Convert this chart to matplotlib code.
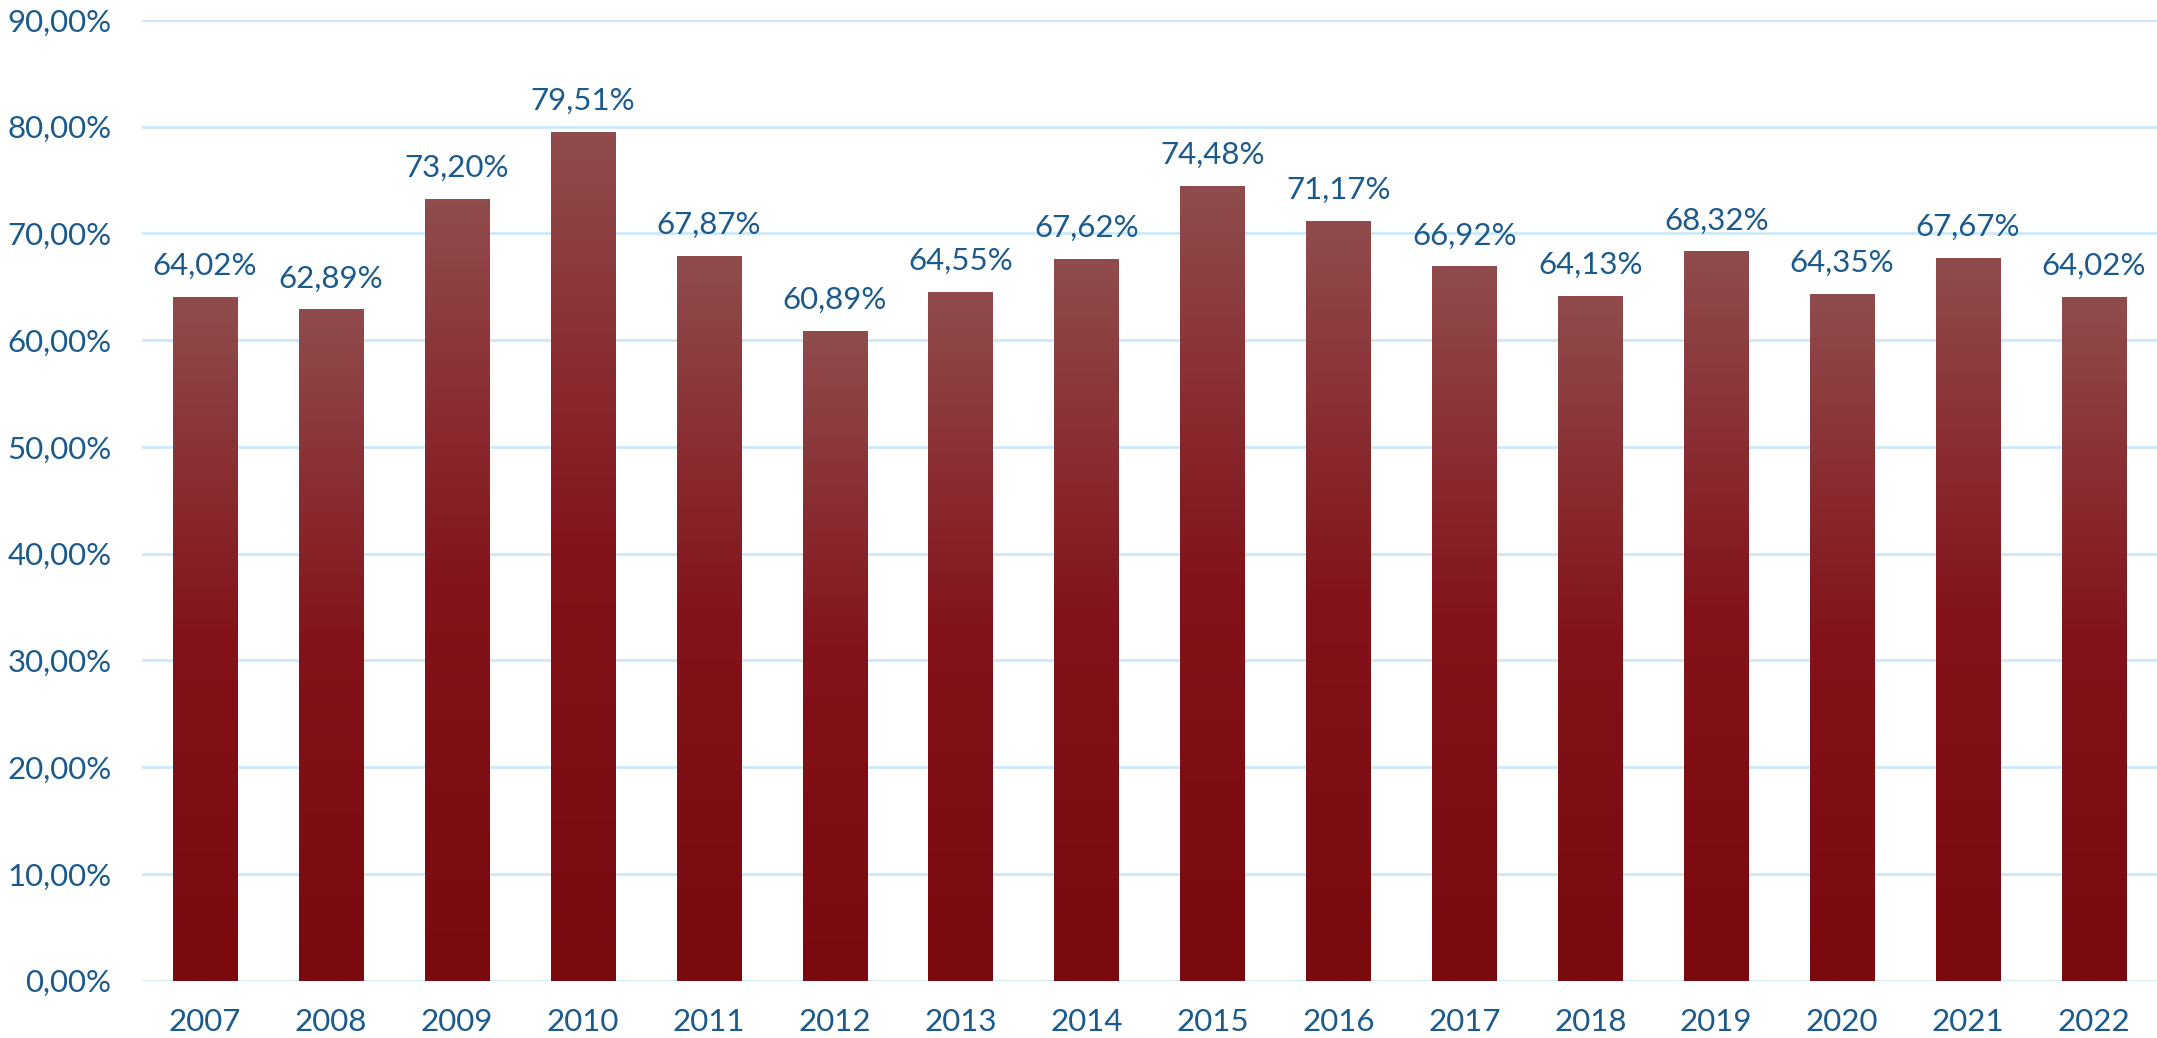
import numpy as np
import matplotlib
matplotlib.use("Agg")
import matplotlib.pyplot as plt
from matplotlib.colors import LinearSegmentedColormap

years = ["2007", "2008", "2009", "2010", "2011", "2012", "2013", "2014",
         "2015", "2016", "2017", "2018", "2019", "2020", "2021", "2022"]
values = [64.02, 62.89, 73.20, 79.51, 67.87, 60.89, 64.55, 67.62,
          74.48, 71.17, 66.92, 64.13, 68.32, 64.35, 67.67, 64.02]
yticks = [0, 10, 20, 30, 40, 50, 60, 70, 80, 90]

text_color = "#1b5a8b"
grid_color = "#cde9f9"
font = "Lato"
fsize = 22.5

# vertical gradient for each bar: light at top, deep red at the base
bar_cmap = LinearSegmentedColormap.from_list(
    "bar", [(0.0, "#7a0a0e"), (0.5, "#83121a"), (1.0, "#904c4d")])

def fmt(v):
    return f"{v:.2f}".replace(".", ",") + "%"

fig = plt.figure(figsize=(21.57, 10.38), dpi=100)
ax = fig.add_axes([142 / 2157, 1 - 980.7 / 1038, 1 - 142 / 2157, (980.7 - 20) / 1038])

x = np.arange(len(years))
bars = ax.bar(x, values, width=0.51, color="none", edgecolor="none", zorder=3)

grad = np.linspace(0, 1, 256).reshape(-1, 1)
for b, v in zip(bars, values):
    x0, w = b.get_x(), b.get_width()
    im = ax.imshow(grad, cmap=bar_cmap, aspect="auto", origin="lower",
                   extent=[x0, x0 + w, 0, v], zorder=3, interpolation="bilinear")
    im.set_clip_path(b)
    ax.text(b.get_x() + w / 2, v + 1.6, fmt(v), ha="center", va="bottom",
            fontsize=fsize, color=text_color, family=font, zorder=4)

ax.set_xlim(-0.5, len(years) - 0.5)
ax.set_ylim(0, 90)
ax.set_yticks(yticks)
ax.set_yticklabels([fmt(t) for t in yticks], fontsize=fsize, color=text_color, family=font)
ax.set_xticks(x)
ax.set_xticklabels(years, fontsize=fsize, color=text_color, family=font)
ax.tick_params(axis="both", length=0)
ax.tick_params(axis="y", pad=22)
ax.tick_params(axis="x", pad=20)

ax.yaxis.grid(True, color=grid_color, linewidth=2, zorder=0)
ax.set_axisbelow(True)
for s in ax.spines.values():
    s.set_visible(False)

fig.savefig("out.png", dpi=100)
